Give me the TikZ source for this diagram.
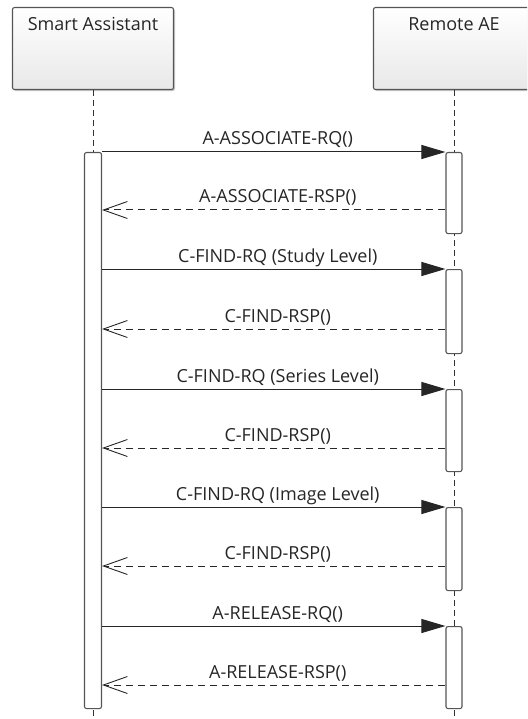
\documentclass[tikz,border=0pt]{standalone}
\usepackage{fontspec}
\setmainfont{Open Sans}
\usetikzlibrary{arrows.meta,shadows}
\definecolor{txt}{HTML}{262626}
\definecolor{edge}{HTML}{555555}
\begin{document}
\begin{tikzpicture}[x=1pt,y=-1pt,
  font=\fontsize{18}{21}\selectfont, text=txt,
  hdr/.style={draw=edge, line width=1.1pt, rounded corners=2pt,
    top color=white, bottom color=black!9, minimum width=161pt,
    inner ysep=8pt, text height=15pt, text depth=51pt, anchor=north,
    drop shadow={shadow xshift=1.5pt, shadow yshift=-1.5pt, fill=black!35, opacity=.6}},
  lifeline/.style={draw=black!80, line width=0.9pt, dash pattern=on 6pt off 4pt},
  act/.style={draw=edge, line width=1.1pt, fill=white, rounded corners=2pt,
    minimum width=16pt, inner sep=0pt, anchor=north},
  call/.style={draw=black!85, line width=1pt, -{Triangle[length=24pt,width=14pt]}},
  reply/.style={draw=black!85, line width=1pt, dash pattern=on 7pt off 5pt,
    -{Straight Barb[length=24pt,width=17pt,line width=0.9pt]}},
  msg/.style={midway, anchor=base, yshift=7pt, xshift=4pt, inner sep=0pt}]
\useasboundingbox (0,0) rectangle (527,719);
\clip (0,0) rectangle (527,719);
% headers
\node[hdr] (sa) at (93,7) {Smart Assistant};
\node[hdr] (ae) at (454,7) {Remote AE};
% lifeline ends
\coordinate (saend) at (93,719);
\coordinate (aeend) at (454,719);
\draw[lifeline] (sa.south) -- (saend);
\draw[lifeline] (ae.south) -- (aeend);
% activations
\node[act, minimum width=17pt, minimum height=556pt] (la) at (93,152) {};
\node[act, minimum height=81pt]  (r1) at (454,152) {};
\node[act, minimum height=84pt]  (r2) at (454,269) {};
\node[act, minimum height=82pt]  (r3) at (454,389) {};
\node[act, minimum height=83pt]  (r4) at (454,507) {};
\node[act, minimum height=82pt]  (r5) at (454,626) {};
% reply heights
\coordinate (p1) at (454,210);
\coordinate (p2) at (454,329);
\coordinate (p3) at (454,448);
\coordinate (p4) at (454,566);
\coordinate (p5) at (454,685);
% messages
\draw[call] (la.east |- r1.north) -- (r1.north west) node[msg] {A-ASSOCIATE-RQ()};
\draw[reply] (p1 -| r1.west) -- (p1 -| la.east) node[msg] {A-ASSOCIATE-RSP()};
\draw[call] (la.east |- r2.north) -- (r2.north west) node[msg] {C-FIND-RQ (Study Level)};
\draw[reply] (p2 -| r2.west) -- (p2 -| la.east) node[msg] {C-FIND-RSP()};
\draw[call] (la.east |- r3.north) -- (r3.north west) node[msg] {C-FIND-RQ (Series Level)};
\draw[reply] (p3 -| r3.west) -- (p3 -| la.east) node[msg] {C-FIND-RSP()};
\draw[call] (la.east |- r4.north) -- (r4.north west) node[msg] {C-FIND-RQ (Image Level)};
\draw[reply] (p4 -| r4.west) -- (p4 -| la.east) node[msg] {C-FIND-RSP()};
\draw[call] (la.east |- r5.north) -- (r5.north west) node[msg] {A-RELEASE-RQ()};
\draw[reply] (p5 -| r5.west) -- (p5 -| la.east) node[msg] {A-RELEASE-RSP()};
\end{tikzpicture}
\end{document}
